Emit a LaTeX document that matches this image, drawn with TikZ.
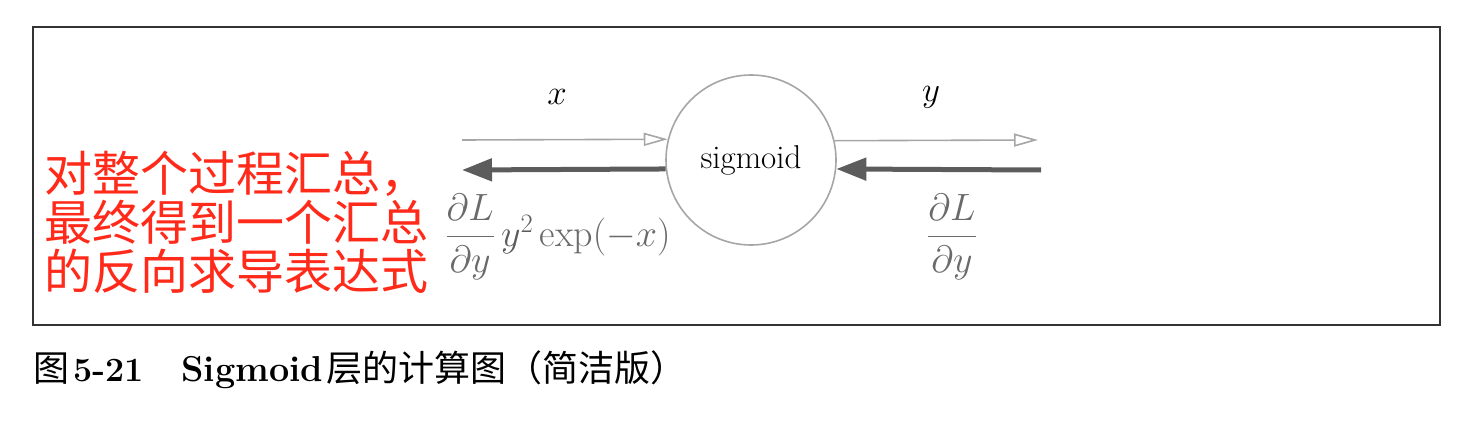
\RequirePackage{fix-cm}
\documentclass[tikz,border=0pt]{standalone}
\usepackage{amsmath}
\usepackage{fontspec}
\newfontfamily\cjk{Noto Sans CJK SC}
\usetikzlibrary{positioning, arrows.meta}
\definecolor{fwdgray}{HTML}{A6A6A6}
\definecolor{bwdgray}{HTML}{5C5C5C}
\definecolor{gradgray}{HTML}{6A6A6A}
\definecolor{notered}{HTML}{FF2A1A}
\tikzset{
forward/.style={draw=fwdgray, line width=1.6pt, -{Triangle[open, length=24pt, width=13pt]}}, % thin forward arrows
backward/.style={draw=bwdgray, line width=5pt, -{Triangle[length=30pt, width=22pt]}}, % bold backward arrows
layer/.style={circle, draw=fwdgray, line width=1.6pt, minimum size=170pt, inner sep=0pt, font=\fontsize{33}{38}\selectfont}, % the sigmoid node
val/.style={font=\fontsize{35}{40}\selectfont, inner sep=0pt}, % forward values
grad/.style={font=\fontsize{38}{44}\selectfont, text=gradgray, inner sep=0pt}, % backward gradients
note/.style={font=\cjk\fontsize{48}{49}\selectfont, text=notered, align=left, inner sep=0pt}, % red remark
caption/.style={font=\fontsize{36}{40}\selectfont, inner sep=0pt},
}

\begin{document}
\begin{tikzpicture}[x=1pt, y=-1pt]
    \useasboundingbox (0,0) rectangle (1484,428);
    \draw[line width=1.5pt, draw=black!80] (33,27) rectangle (1440,325);

    \node[layer] (sig) at (751,160) {sigmoid};
    \coordinate (xin) at (462,140);
    \coordinate (yout) at (1038,140);
    \coordinate (gin) at (1041,170);
    \coordinate (gout) at (462,170);

    \draw[forward] (xin) -- (sig.166.4);
    \draw[forward] (sig.13.6) -- (yout);
    \draw[backward] (gin) -- (sig.-6.8);
    \draw[backward] (sig.186.8) -- (gout);

    \node[val] (x) at (557,97) {$x$};
    \node[val] (y) at (931,97) {$y$};
    \node[grad] (dy) at (952,237) {$\dfrac{\partial L}{\partial y}$};
    \node[grad] (dx) at (558,237) {$\dfrac{\partial L}{\partial y}\,{\color{bwdgray}y^2}\exp(-x)$};

    \node[note, anchor=west] (remark) at (44,222) {对整个过程汇总，\\最终得到一个汇总\\的反向求导表达式};

    \node[caption, anchor=west] (cap) at (33,370) {{\cjk 图}\hspace{4pt}{\fontsize{34}{40}\selectfont\textbf{5-21}}\hspace{38pt}\textbf{Sigmoid}\hspace{3pt}{\cjk 层的计算图（简洁版）}};
\end{tikzpicture}
\end{document}
